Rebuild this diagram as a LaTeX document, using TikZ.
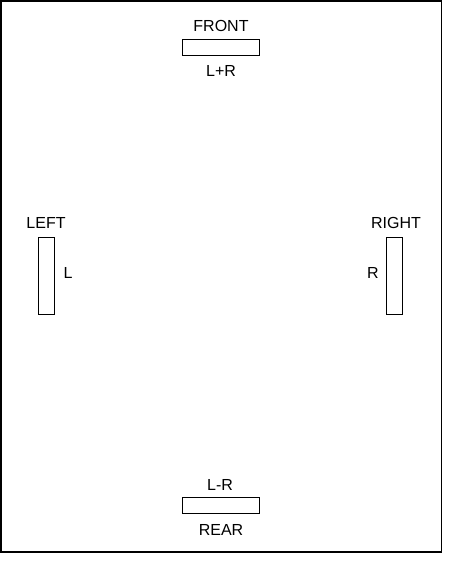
\documentclass[tikz,border=0pt]{standalone}
\usepackage{fontspec}
\setmainfont{Liberation Sans}
\tikzset{
  spkh/.style={draw,line width=0.7pt,minimum width=57.75pt,minimum height=11.7pt,inner sep=0pt},
  spkv/.style={draw,line width=0.7pt,minimum width=12pt,minimum height=57.75pt,inner sep=0pt},
  lbl/.style={font=\fontsize{12}{14}\selectfont,inner sep=0pt}
}
\begin{document}
\begin{tikzpicture}[x=0.75pt,y=-0.75pt]
  \useasboundingbox (0,0) rectangle (450,563);
  \draw[line width=0.8pt] (1,1) rectangle (441.5,552);
  % speakers
  \node[spkh] (front) at (220.7,47.2) {};
  \node[spkh] (rear)  at (220.7,505.5) {};
  \node[spkv] (left)  at (46.7,276.3) {};
  \node[spkv] (right) at (394.7,276.3) {};
  % labels
  \node[lbl] (frontname) at (221,25.5) {FRONT};
  \node[lbl] (frontsig)  at (221,70.5) {L+R};
  \node[lbl] (rearsig)   at (220,484.5) {L-R};
  \node[lbl] (rearname)  at (221,529.5) {REAR};
  \node[lbl] (leftname)  at (46,222.5) {LEFT};
  \node[lbl] (leftsig)   at (68,272.5) {L};
  \node[lbl] (rightname) at (396,222.5) {RIGHT};
  \node[lbl] (rightsig)  at (373,272.5) {R};
\end{tikzpicture}
\end{document}
